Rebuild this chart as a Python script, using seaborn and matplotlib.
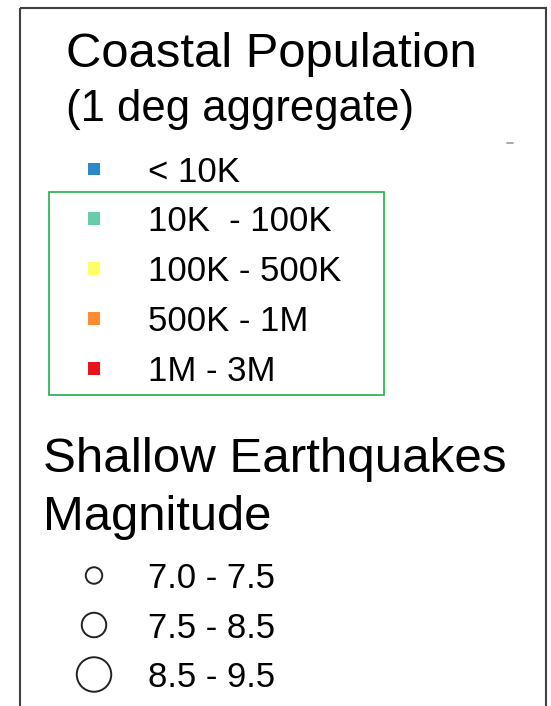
import pandas as pd
import numpy as np
import seaborn as sns
import matplotlib.pyplot as plt
from matplotlib.patches import Rectangle

# legend data
pop_labels = ["< 10K", "10K  - 100K", "100K - 500K", "500K - 1M", "1M - 3M"]
pop_colors = ["#2a87c8", "#66cdaa", "#ffff66", "#ff8c33", "#e8141c"]
quake_labels = ["7.0 - 7.5", "7.5 - 8.5", "8.5 - 9.5"]
quake_sizes = [141, 311, 617]

sns.set_theme(style="white")
plt.rcParams['font.family'] = ['Liberation Sans', 'DejaVu Sans']

fig = plt.figure(figsize=(5.51, 7.06), dpi=100)
ax = fig.add_axes([0, 0, 1, 1])
ax.set_xlim(0, 551)
ax.set_ylim(706, 0)
ax.axis("off")

# layout (pixel coordinates)
sym_x, text_x = 94, 148
pop_y0, pop_step = 169, 49.8
quake_y0, quake_step = 575.5, 49.5

pop_df = pd.DataFrame({
    "label": pop_labels,
    "x": sym_x,
    "y": pop_y0 + np.arange(len(pop_labels)) * pop_step,
})
quake_df = pd.DataFrame({
    "label": quake_labels,
    "x": sym_x,
    "y": quake_y0 + np.arange(len(quake_labels)) * quake_step,
})

sns.scatterplot(data=pop_df, x="x", y="y", hue="label",
                palette=dict(zip(pop_labels, pop_colors)),
                marker="s", s=84, linewidth=0, legend=False, ax=ax, zorder=3)
sns.scatterplot(data=quake_df, x="x", y="y", size="label",
                sizes=dict(zip(quake_labels, quake_sizes)),
                marker="o", facecolor="white", edgecolor="#222222",
                linewidth=1.4, legend=False, ax=ax, zorder=3)

ax.set_xlim(0, 551)
ax.set_ylim(706, 0)

# labels next to symbols
for _, r in pop_df.iterrows():
    ax.text(text_x, r["y"] + 12.5, r["label"], fontsize=25, va="baseline", ha="left", color="black")
for _, r in quake_df.iterrows():
    ax.text(text_x, r["y"] + 12.5, r["label"], fontsize=25, va="baseline", ha="left", color="black")

# headings
ax.text(66, 67, "Coastal Population", fontsize=35.3, va="baseline", ha="left", color="black")
ax.text(66, 121, "(1 deg aggregate)", fontsize=31.4, va="baseline", ha="left", color="black")
ax.text(43, 472, "Shallow Earthquakes", fontsize=35.5, va="baseline", ha="left", color="black")
ax.text(43, 530, "Magnitude", fontsize=35.3, va="baseline", ha="left", color="black")

# frames
ax.add_patch(Rectangle((19.5, 8), 526, 720, fill=False, edgecolor="#404040", linewidth=1.5, zorder=1))
ax.add_patch(Rectangle((48.5, 191.5), 335, 203.5, fill=False, edgecolor="#1fb04a", linewidth=1.2, zorder=1))
ax.plot([507, 513], [143, 143], color="#999999", linewidth=1.2)

fig.savefig("out.png", dpi=100)
